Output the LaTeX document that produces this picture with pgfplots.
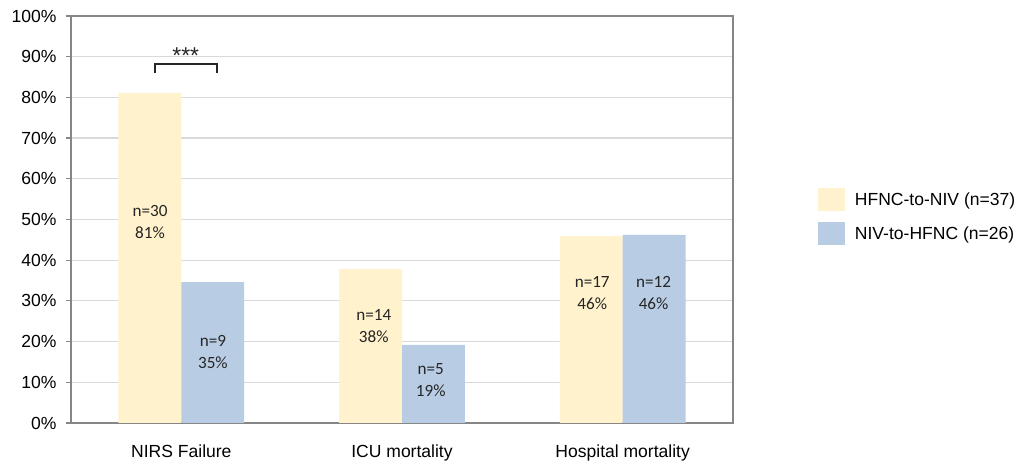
\documentclass[border=0pt]{standalone}
\usepackage{pgfplots}
\pgfplotsset{compat=1.18}
\usepackage{fontspec}
\setmainfont{Liberation Sans}
\newfontfamily\calibri{Carlito}
\definecolor{yel}{RGB}{255,242,204}
\definecolor{blu}{RGB}{184,204,228}
\definecolor{axgray}{RGB}{134,134,134}
\definecolor{gridc}{RGB}{217,217,217}
\begin{document}
\begin{tikzpicture}[font=\fontsize{17.6}{21}\selectfont]
\useasboundingbox (0,0) rectangle (1033bp,462bp);
\begin{axis}[
 at={(71bp,39bp)}, anchor=south west,
 width=662bp, height=407bp, scale only axis,
 xmin=-0.5, xmax=2.5, ymin=0, ymax=100,
 ybar, bar width=0.285,
 xtick={0,1,2}, xticklabels={NIRS Failure, ICU mortality, Hospital mortality},
 ytick={0,10,...,100},
 yticklabel={\pgfmathprintnumber{\tick}\%},
 /pgf/number format/assume math mode=true,
 ytick pos=left, xtick pos=bottom,
 xticklabel style={yshift=-13bp},
 yticklabel style={xshift=-6bp},
 ymajorgrids, major grid style={draw=gridc, line width=1.2bp},
 axis line style={draw=axgray, line width=1.2bp},
 x tick style={draw=none}, y tick style={draw=axgray, line width=1.2bp},
 tick align=outside, major tick length=5bp,
 legend style={at={(1.128,0.577)}, anchor=north west, draw=none, fill=none,
   row sep=11bp, inner sep=0pt, cells={anchor=west},
   /tikz/every even column/.append style={column sep=0bp}},
 legend image code/.code={\fill[#1] (0bp,-11.5bp) rectangle (27bp,11.5bp);},
 legend cell align=left,
]
\addplot[fill=yel, draw=none, bar shift=-0.1425] coordinates {(0,81.1) (1,37.8) (2,45.9)};
\addlegendentry{\hspace{8bp}HFNC-to-NIV (n=37)}
\addplot[fill=blu, draw=none, bar shift=0.1425] coordinates {(0,34.6) (1,19.2) (2,46.2)};
\addlegendentry{\hspace{8bp}NIV-to-HFNC (n=26)}
\begin{scope}[every node/.style={font=\calibri\fontsize{17.2}{22}\selectfont, align=center, text=black!85}]
\node at (axis cs:-0.142,49.4) {n=30\\81\%};
\node at (axis cs:0.143,17.4) {n=9\\35\%};
\node at (axis cs:0.872,23.8) {n=14\\38\%};
\node at (axis cs:1.13,10.6) {n=5\\19\%};
\node at (axis cs:1.862,32) {n=17\\46\%};
\node at (axis cs:2.14,32) {n=12\\46\%};
\end{scope}
\draw[line width=1.5bp, black!85] (axis cs:-0.119,86) -- (axis cs:-0.119,88.2) -- (axis cs:0.1615,88.2) -- (axis cs:0.1615,86);
\node[text=black!85, font=\fontsize{23}{26}\selectfont] at (axis cs:0.02,90.3) {***};
\end{axis}
\end{tikzpicture}
\end{document}
